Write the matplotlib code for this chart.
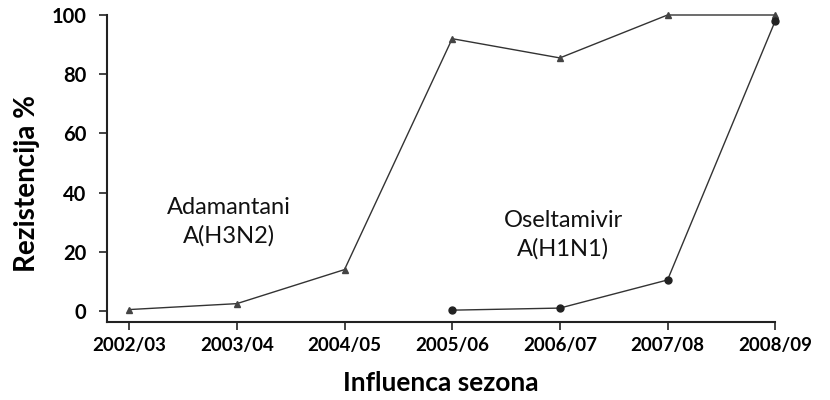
import matplotlib
matplotlib.use("Agg")
import matplotlib.pyplot as plt

sezone = ["2002/03", "2003/04", "2004/05", "2005/06", "2006/07", "2007/08", "2008/09"]
adamantani = [0.5, 2.5, 14, 92, 85.5, 100, 100]
oseltamivir_idx = [3, 4, 5, 6]
oseltamivir = [0.3, 1, 10.5, 98]

plt.rcParams["font.family"] = ["Lato", "DejaVu Sans"]

fig = plt.figure(figsize=(8.3, 4.0), dpi=100)
ax = fig.add_axes([0.129, 0.195, 0.805, 0.7675])

x = list(range(len(sezone)))
ax.plot(x, adamantani, color="#333333", linewidth=1.0, marker="^",
        markersize=4, markerfacecolor="#444444", markeredgecolor="#444444",
        clip_on=False, zorder=3)
ax.plot(oseltamivir_idx, oseltamivir, color="#333333", linewidth=1.0, marker="o",
        markersize=5, markerfacecolor="#222222", markeredgecolor="#222222",
        clip_on=False, zorder=3)

ax.set_xlim(-0.205, 6)
ax.set_ylim(-3.7, 100)
ax.set_xticks(x)
ax.set_xticklabels(sezone, fontsize=13.5, fontweight="bold")
ax.set_yticks([0, 20, 40, 60, 80, 100])
ax.set_yticklabels(["0", "20", "40", "60", "80", "100"], fontsize=14.5, fontweight="bold")
ax.tick_params(axis="both", length=6, width=1.2, color="#222222")
ax.tick_params(axis="x", pad=5)
ax.tick_params(axis="y", pad=9)

for s in ["top", "right"]:
    ax.spines[s].set_visible(False)
for s in ["left", "bottom"]:
    ax.spines[s].set_linewidth(1.5)
    ax.spines[s].set_color("#222222")

ax.set_ylabel("Rezistencija %", fontsize=20, fontweight="bold")
ax.yaxis.set_label_coords(-0.1, 0.45)
ax.set_xlabel("Influenca sezona", fontsize=19, fontweight="bold")
ax.xaxis.set_label_coords(0.5, -0.16)

ax.text(0.93, 30, "Adamantani\nA(H3N2)", ha="center", va="center",
        fontsize=17, linespacing=1.4, color="#111111")
ax.text(4.03, 25.6, "Oseltamivir\nA(H1N1)", ha="center", va="center",
        fontsize=17, linespacing=1.4, color="#111111")

fig.savefig("out.png", facecolor="white")
